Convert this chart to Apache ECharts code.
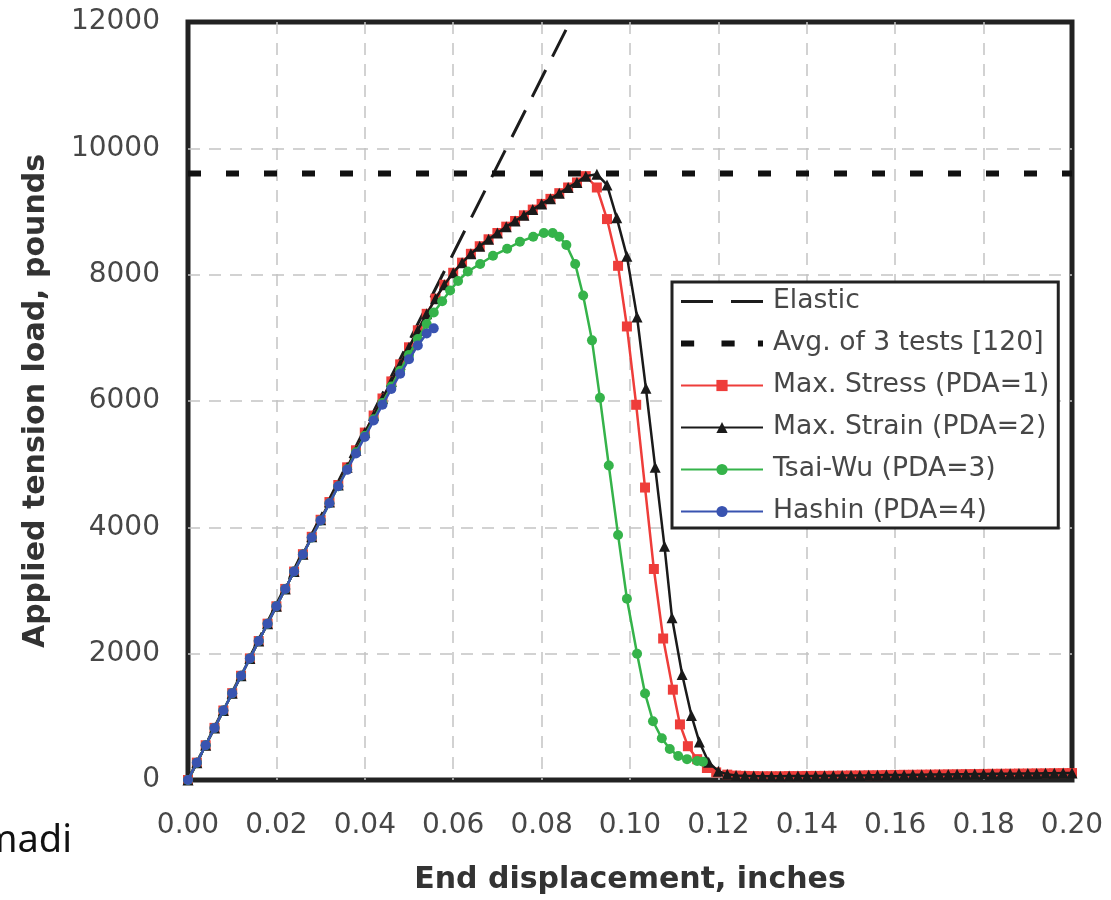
<!DOCTYPE html>
<html>
<head>
<meta charset="utf-8">
<script src="https://cdn.jsdelivr.net/npm/echarts@6/dist/echarts.min.js"></script>
<style>
html,body{margin:0;padding:0;background:#fff;}
#chart{width:1111px;height:900px;}
</style>
</head>
<body>
<div id="chart"></div>
<script>
// ---- data (x = end displacement in inches, y = load in pounds) ----
const seriesNames = ['Elastic', 'Avg. of 3 tests [120]', 'Max. Stress (PDA=1)', 'Max. Strain (PDA=2)', 'Tsai-Wu (PDA=3)', 'Hashin (PDA=4)'];
const xTicks = { min: 0, max: 0.2, step: 0.02 };
const yTicks = { min: 0, max: 12000, step: 2000 };

const elastic = [[0, 0], [0.0864, 12000]];
const avgTests = [[0, 9600], [0.2, 9600]];

const maxStress = [
  [0,0],[0.002,275],[0.004,550],[0.006,825],[0.008,1100],[0.010,1375],[0.012,1650],[0.014,1925],
  [0.016,2200],[0.018,2475],[0.020,2750],[0.022,3025],[0.024,3300],[0.026,3575],[0.028,3850],
  [0.030,4120],[0.032,4400],[0.034,4670],[0.036,4950],[0.038,5220],[0.040,5500],[0.042,5770],
  [0.044,6040],[0.046,6310],[0.048,6580],[0.050,6850],[0.052,7120],[0.054,7380],[0.056,7620],
  [0.058,7840],[0.060,8030],[0.062,8190],[0.064,8330],[0.066,8450],[0.068,8560],[0.070,8660],
  [0.072,8760],[0.074,8850],[0.076,8940],[0.078,9030],[0.080,9120],[0.082,9200],[0.084,9290],
  [0.086,9380],[0.088,9460],[0.090,9560],[0.0925,9380],[0.0948,8880],[0.0973,8140],[0.0993,7180],
  [0.1014,5940],[0.1034,4630],[0.1054,3340],[0.1075,2240],[0.1097,1430],[0.1113,880],[0.1131,535],
  [0.1152,330],[0.1174,190],[0.1195,120],[0.122,85],[0.124,70],[0.126,65],[0.128,62],[0.130,60],
  [0.132,60],[0.134,60],[0.136,62],[0.138,62],[0.140,64],[0.142,65],[0.144,66],[0.146,68],
  [0.148,70],[0.150,72],[0.152,73],[0.154,75],[0.156,76],[0.158,78],[0.160,80],[0.162,82],
  [0.164,83],[0.166,85],[0.168,86],[0.170,88],[0.172,90],[0.174,91],[0.176,93],[0.178,94],
  [0.180,96],[0.182,98],[0.184,99],[0.186,100],[0.188,102],[0.190,103],[0.192,105],[0.194,106],
  [0.196,108],[0.198,109],[0.200,110]
];

const maxStrain = [
  [0,0],[0.002,275],[0.004,550],[0.006,825],[0.008,1100],[0.010,1375],[0.012,1650],[0.014,1925],
  [0.016,2200],[0.018,2475],[0.020,2750],[0.022,3025],[0.024,3300],[0.026,3575],[0.028,3850],
  [0.030,4120],[0.032,4400],[0.034,4670],[0.036,4950],[0.038,5220],[0.040,5500],[0.042,5770],
  [0.044,6040],[0.046,6310],[0.048,6580],[0.050,6850],[0.052,7120],[0.054,7380],[0.056,7620],
  [0.058,7840],[0.060,8030],[0.062,8190],[0.064,8330],[0.066,8450],[0.068,8560],[0.070,8660],
  [0.072,8760],[0.074,8850],[0.076,8940],[0.078,9030],[0.080,9120],[0.082,9200],[0.084,9290],
  [0.086,9380],[0.088,9460],[0.090,9560],[0.0925,9590],[0.0948,9420],[0.0970,8900],[0.0993,8290],
  [0.1016,7330],[0.1036,6200],[0.1057,4950],[0.1078,3700],[0.1095,2570],[0.1118,1670],[0.1139,1020],
  [0.1157,600],[0.1178,280],[0.120,140],[0.122,90],[0.124,72],[0.126,66],[0.128,62],[0.130,60],
  [0.132,60],[0.134,61],[0.136,62],[0.138,63],[0.140,64],[0.142,65],[0.144,67],[0.146,68],
  [0.148,70],[0.150,71],[0.152,73],[0.154,74],[0.156,76],[0.158,78],[0.160,79],[0.162,81],
  [0.164,83],[0.166,84],[0.168,86],[0.170,87],[0.172,89],[0.174,91],[0.176,92],[0.178,94],
  [0.180,95],[0.182,97],[0.184,98],[0.186,100],[0.188,101],[0.190,103],[0.192,104],[0.194,106],
  [0.196,107],[0.198,109],[0.200,110]
];

const tsaiWu = [
  [0,0],[0.002,275],[0.004,550],[0.006,825],[0.008,1100],[0.010,1375],[0.012,1650],[0.014,1925],
  [0.016,2200],[0.018,2475],[0.020,2750],[0.022,3025],[0.024,3300],[0.026,3570],[0.028,3840],
  [0.030,4110],[0.032,4380],[0.034,4650],[0.036,4920],[0.038,5190],[0.040,5450],[0.042,5710],
  [0.044,5970],[0.046,6230],[0.048,6480],[0.050,6730],[0.052,6980],[0.054,7220],[0.0556,7400],
  [0.0575,7580],[0.0593,7750],[0.0611,7900],[0.0633,8050],[0.0661,8170],[0.0690,8300],
  [0.0722,8410],[0.0751,8520],[0.0781,8600],[0.0805,8660],[0.0825,8660],[0.0840,8600],
  [0.0856,8470],[0.0876,8170],[0.0894,7670],[0.0914,6960],[0.0932,6050],[0.0952,4980],
  [0.0973,3880],[0.0993,2870],[0.1016,2000],[0.1034,1370],[0.1052,930],[0.1072,660],
  [0.1090,490],[0.1109,380],[0.1129,330],[0.1152,300],[0.1165,290]
];

const hashin = [
  [0,0],[0.002,275],[0.004,550],[0.006,825],[0.008,1100],[0.010,1375],[0.012,1650],[0.014,1925],
  [0.016,2200],[0.018,2475],[0.020,2750],[0.022,3025],[0.024,3300],[0.026,3570],[0.028,3840],
  [0.030,4110],[0.032,4380],[0.034,4650],[0.036,4910],[0.038,5170],[0.040,5430],[0.042,5690],
  [0.044,5940],[0.046,6190],[0.048,6430],[0.050,6660],[0.052,6880],[0.054,7070],[0.0556,7150]
];

const colors = { elastic: '#1c1c1c', avg: '#111111', stress: '#ee3d3a', strain: '#1a1a1a', tsai: '#35b34a', hashin: '#3953b0' };

const chart = echarts.init(document.getElementById('chart'), null, { renderer: 'canvas' });
const labelFont = 'DejaVu Sans';
const gridLine = { show: true, showMinLine: false, showMaxLine: false,
  lineStyle: { color: '#c4c4c4', width: 1.5, type: [12, 9] } };

chart.setOption({
  animation: false,
  backgroundColor: '#ffffff',
  grid: {
    left: 188, right: 39, top: 22, bottom: 117,
    show: true, borderColor: '#222222', borderWidth: 5, backgroundColor: 'transparent'
  },
  xAxis: {
    type: 'value', min: xTicks.min, max: xTicks.max, interval: xTicks.step,
    name: 'End displacement, inches', nameLocation: 'middle', nameGap: 85,
    nameTextStyle: { fontFamily: labelFont, fontWeight: 'bold', fontSize: 30, color: '#333' },
    axisLine: { show: false }, axisTick: { show: false },
    axisLabel: { fontFamily: labelFont, fontSize: 28, color: '#474747', margin: 32,
      formatter: v => v.toFixed(2) },
    splitLine: gridLine
  },
  yAxis: {
    type: 'value', min: yTicks.min, max: yTicks.max, interval: yTicks.step,
    name: 'Applied tension load, pounds', nameLocation: 'middle', nameGap: 137,
    nameTextStyle: { fontFamily: labelFont, fontWeight: 'bold', fontSize: 30, color: '#333' },
    axisLine: { show: false }, axisTick: { show: false },
    axisLabel: { fontFamily: labelFont, fontSize: 28, color: '#474747', margin: 28,
      formatter: v => String(v) },
    splitLine: gridLine
  },
  legend: {
    orient: 'vertical', left: 672, top: 282,
    padding: [6, 9, 3, 8], itemGap: 15, itemWidth: 82, itemHeight: 14,
    backgroundColor: '#ffffff', borderColor: '#222222', borderWidth: 3, borderRadius: 0,
    textStyle: { fontFamily: labelFont, fontSize: 26.6, color: '#474747', lineHeight: 27, padding: [0, 0, 0, 5] },
    data: [
      { name: seriesNames[0], icon: 'path://M0,0h32v3h-32z M50,0h32v3h-32z' },
      { name: seriesNames[1], icon: 'path://M0,0h13v6h-13z M40,0h13v6h-13z M76,0h5v6h-5z' },
      seriesNames[2], seriesNames[3], seriesNames[4], seriesNames[5]
    ]
  },
  graphic: [{
    type: 'text', right: 1111 - 72, top: 822,
    style: { text: 'madi', font: '38px "Noto Sans"', fill: '#111', textAlign: 'right' }
  }],
  series: [
    { name: seriesNames[0], type: 'line', data: elastic, symbol: 'none', z: 3,
      lineStyle: { color: colors.elastic, width: 3, type: [30, 15] }, itemStyle: { color: colors.elastic } },
    { name: seriesNames[1], type: 'line', data: avgTests, symbol: 'none', z: 3,
      lineStyle: { color: colors.avg, width: 6, type: [13, 25] }, itemStyle: { color: colors.avg } },
    { name: seriesNames[2], type: 'line', data: maxStress, symbol: 'rect', symbolSize: 10, z: 4,
      lineStyle: { color: colors.stress, width: 2.5 }, itemStyle: { color: colors.stress } },
    { name: seriesNames[3], type: 'line', data: maxStrain, symbol: 'triangle', symbolSize: 11, z: 5,
      lineStyle: { color: colors.strain, width: 2.5 }, itemStyle: { color: colors.strain } },
    { name: seriesNames[4], type: 'line', data: tsaiWu, symbol: 'circle', symbolSize: 10, z: 6,
      lineStyle: { color: colors.tsai, width: 2.5 }, itemStyle: { color: colors.tsai } },
    { name: seriesNames[5], type: 'line', data: hashin, symbol: 'circle', symbolSize: 10, z: 7,
      lineStyle: { color: colors.hashin, width: 2.5 }, itemStyle: { color: colors.hashin } }
  ]
});
</script>
</body>
</html>
